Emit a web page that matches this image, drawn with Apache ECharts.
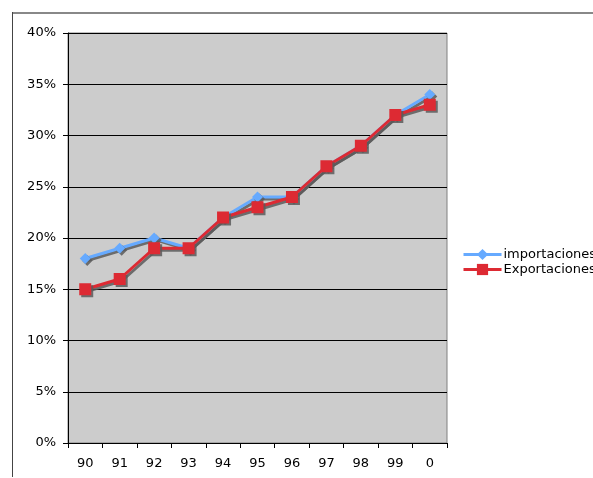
<!DOCTYPE html>
<html>
<head>
<meta charset="utf-8">
<script src="https://cdn.jsdelivr.net/npm/echarts@6/dist/echarts.min.js"></script>
<style>
  html, body { margin: 0; padding: 0; background: #fff; }
  #chart { width: 593px; height: 478px; }
</style>
</head>
<body>
<div id="chart"></div>
<script>
// Years (two-digit) and shares of each series, in percent
const years = ['90', '91', '92', '93', '94', '95', '96', '97', '98', '99', '0'];
const importaciones = [18, 19, 20, 19, 22, 24, 24, 27, 29, 32, 34];
const exportaciones = [15, 16, 19, 19, 22, 23, 24, 27, 29, 32, 33];

const font = 'DejaVu Sans, Verdana, sans-serif';
const shadow = { shadowColor: 'rgba(90,90,90,0.85)', shadowBlur: 0, shadowOffsetX: 2, shadowOffsetY: 2 };

const chart = echarts.init(document.getElementById('chart'));
chart.setOption({
  animation: false,
  backgroundColor: '#fff',
  // outer frame: top and left edges of the chart area
  graphic: [
    { type: 'rect', left: 12, top: 12, shape: { width: 570, height: 2 }, style: { fill: '#888' }, z: 10 },
    { type: 'rect', right: 0, top: 12, shape: { width: 30, height: 2 }, style: { fill: '#888' }, z: 10 },
    { type: 'rect', left: 12, top: 12, shape: { width: 1, height: 465 }, style: { fill: '#444' }, z: 10 }
  ],
  grid: {
    left: 68, right: 146, top: 33, bottom: 35,
    show: true, backgroundColor: '#cccccc', borderColor: '#808080', borderWidth: 1
  },
  legend: {
    orient: 'vertical',
    left: 457, top: 243,
    itemWidth: 38, itemHeight: 14, itemGap: 2,
    lineStyle: { width: 3 },
    textStyle: { fontFamily: font, fontSize: 13, color: '#000', padding: [0, 0, 0, -3] },
    data: ['importaciones', 'Exportaciones']
  },
  xAxis: {
    type: 'category',
    data: years,
    boundaryGap: true,
    axisLine: { lineStyle: { color: '#000', width: 1 } },
    axisTick: { show: true, length: 5, lineStyle: { color: '#000' } },
    axisLabel: { fontFamily: font, fontSize: 13, color: '#000', margin: 14 },
    splitLine: { show: false }
  },
  yAxis: {
    type: 'value',
    min: 0, max: 40, interval: 5,
    axisLine: { show: true, lineStyle: { color: '#000', width: 1 } },
    axisTick: { show: true, length: 5, lineStyle: { color: '#000' } },
    axisLabel: { fontFamily: font, fontSize: 13, color: '#000', margin: 12, formatter: '{value}%' },
    splitLine: { show: true, lineStyle: { color: '#000', width: 1 } }
  },
  series: [
    {
      name: 'importaciones',
      type: 'line',
      data: importaciones,
      symbol: 'diamond',
      symbolSize: 11,
      color: '#66aaff',
      lineStyle: Object.assign({ width: 3, color: '#66aaff' }, shadow),
      itemStyle: Object.assign({ color: '#66aaff' }, shadow),
      z: 2
    },
    {
      name: 'Exportaciones',
      type: 'line',
      data: exportaciones,
      symbol: 'rect',
      symbolSize: 12,
      color: '#dd2a33',
      lineStyle: Object.assign({ width: 3, color: '#dd2a33' }, shadow),
      itemStyle: Object.assign({ color: '#dd2a33' }, shadow),
      z: 3
    }
  ]
});
</script>
</body>
</html>
